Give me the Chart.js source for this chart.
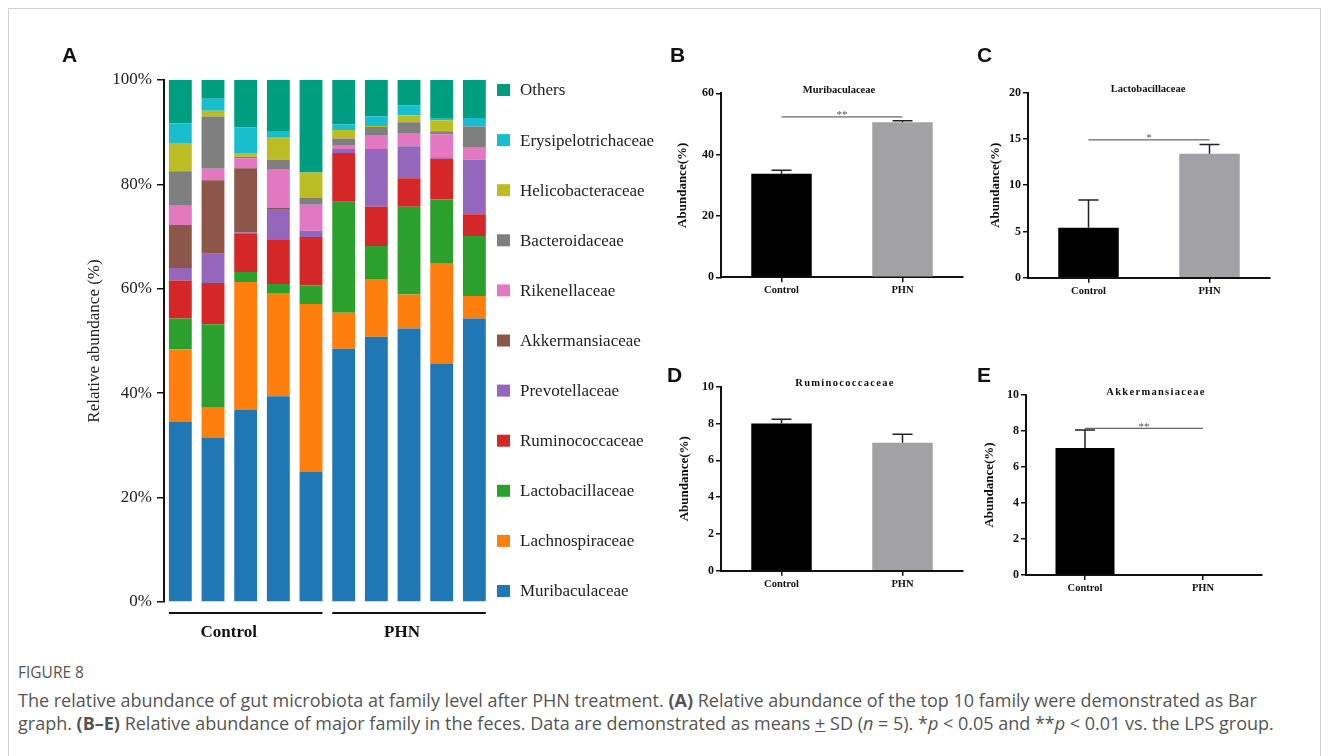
<!DOCTYPE html>
<html>
<head>
<meta charset="utf-8">
<script src="https://cdn.jsdelivr.net/npm/chart.js@4.4.1/dist/chart.umd.min.js"></script>
<style>
  body { margin: 0; background: #fff; width: 1328px; height: 756px; overflow: hidden; position: relative; font-family: 'Liberation Serif', serif; }
  .frame { position: absolute; left: 8px; top: 8px; width: 1311px; height: 800px; border: 1px solid #d2d2d2; }
  canvas { position: absolute; }
  .letter { position: absolute; font: bold 21px 'Liberation Sans', Arial, sans-serif; line-height: 21px; color: #111; }
  .ptitle { position: absolute; white-space: nowrap; line-height: 1; transform: translate(-50%, -50%); font-weight: bold; font-size: 10.5px; color: #111; }
  .caption { position: absolute; left: 18px; font-family: 'Open Sans', sans-serif; color: #555; white-space: nowrap; }
</style>
</head>
<body>
<div class="frame"></div>

<canvas id="chartA" width="660" height="650" style="left:0;top:0"></canvas>
<canvas id="chartB" width="330" height="250" style="left:640px;top:60px"></canvas>
<canvas id="chartC" width="330" height="250" style="left:950px;top:60px"></canvas>
<canvas id="chartD" width="330" height="250" style="left:640px;top:350px"></canvas>
<canvas id="chartE" width="330" height="250" style="left:950px;top:350px"></canvas>

<div class="letter" style="left:62px;top:44px">A</div>
<div class="letter" style="left:670px;top:44px">B</div>
<div class="letter" style="left:977px;top:44px">C</div>
<div class="letter" style="left:667px;top:364px">D</div>
<div class="letter" style="left:977px;top:364px">E</div>

<div class="ptitle" style="left:839px;top:90px">Muribaculaceae</div>
<div class="ptitle" style="left:1148px;top:89px">Lactobacillaceae</div>
<div class="ptitle" style="left:845px;top:383px;letter-spacing:1.3px">Ruminococcaceae</div>
<div class="ptitle" style="left:1156px;top:392px;letter-spacing:1.3px">Akkermansiaceae</div>

<div class="caption" style="top:663px;font-size:15.5px;line-height:18px">FIGURE 8</div>
<div class="caption" style="top:689px;font-size:18px;line-height:22px">The relative abundance of gut microbiota at family level after PHN treatment. <b>(A)</b> Relative abundance of the top 10 family were demonstrated as Bar</div>
<div class="caption" style="top:712px;font-size:18px;line-height:22px">graph. <b>(B–E)</b> Relative abundance of major family in the feces. Data are demonstrated as means <u>+</u> SD (<i>n</i> = 5). *<i>p</i> &lt; 0.05 and **<i>p</i> &lt; 0.01 vs. the LPS group.</div>

<script>
// Panel A: relative abundance per sample (%), bottom to top of each stack
const sampleLabels = ['C1', 'C2', 'C3', 'C4', 'C5', 'P1', 'P2', 'P3', 'P4', 'P5'];
const groupNames = ['Control', 'PHN'];
const groupSizes = [5, 5];

const muribaculaceae      = [34.5, 31.4, 36.8, 39.4, 24.9, 48.5, 50.8, 52.4, 45.7, 54.3];
const lachnospiraceae     = [13.9, 5.8, 24.5, 19.8, 32.2, 6.9, 11.1, 6.5, 19.1, 4.3];
const lactobacillaceae    = [5.9, 16.0, 1.9, 1.7, 3.6, 21.3, 6.3, 16.8, 12.3, 11.5];
const ruminococcaceae     = [7.3, 7.9, 7.3, 8.6, 9.2, 9.3, 7.5, 5.5, 7.8, 4.2];
const prevotellaceae      = [2.4, 5.6, 0.3, 5.8, 1.2, 0.8, 11.1, 6.1, 0.3, 10.4];
const akkermansiaceae     = [8.2, 14.1, 12.3, 0.2, 0, 0, 0, 0, 0, 0];
const rikenellaceae       = [3.7, 2.2, 1.9, 7.3, 5.0, 0.6, 2.5, 2.4, 4.4, 2.3];
const bacteroidaceae      = [6.6, 10.0, 0.3, 1.9, 1.3, 1.4, 1.7, 2.2, 0.6, 4.1];
const helicobacteraceae   = [5.3, 1.1, 0.7, 4.4, 4.9, 1.6, 0.2, 1.3, 2.1, 0];
const erysipelotrichaceae = [3.9, 2.3, 4.9, 1.0, 0, 1.1, 1.8, 1.9, 0.4, 1.6];
const others              = [8.3, 3.6, 9.1, 9.9, 17.7, 8.5, 7.0, 4.9, 7.3, 7.3];

const familyNames = ['Muribaculaceae', 'Lachnospiraceae', 'Lactobacillaceae', 'Ruminococcaceae', 'Prevotellaceae',
  'Akkermansiaceae', 'Rikenellaceae', 'Bacteroidaceae', 'Helicobacteraceae', 'Erysipelotrichaceae', 'Others'];
const familyValues = [muribaculaceae, lachnospiraceae, lactobacillaceae, ruminococcaceae, prevotellaceae,
  akkermansiaceae, rikenellaceae, bacteroidaceae, helicobacteraceae, erysipelotrichaceae, others];
const familyColors = ['#1f77b4', '#ff7f0e', '#2ca02c', '#d62728', '#9467bd',
  '#8c564b', '#e377c2', '#7f7f7f', '#bcbd22', '#17becf', '#009e80'];
const percentTicks = [0, 20, 40, 60, 80, 100];

// Panels B-E: means and SD (%), Control vs PHN
const muriMean = [33.8, 50.6];
const muriSd = [1.1, 0.45];
const lactoMean = [5.4, 13.4];
const lactoSd = [3.0, 1.0];
const ruminoMean = [8.0, 6.95];
const ruminoSd = [0.23, 0.47];
const akkMean = [7.05, 0];
const akkSd = [1.0, 0];

const SERIF = "'Liberation Serif', 'Times New Roman', serif";
Chart.defaults.font.family = SERIF;
Chart.defaults.color = '#111';

/**
 * Legend column drawn to the right of panel A (top entry = last dataset).
 */
const sideLegend = {
    id: 'sideLegend',
    afterDraw(chart, args, opts) {
        const { ctx, chartArea } = chart;
        const items = chart.data.datasets.slice().reverse();
        const step = (chartArea.bottom - chartArea.top - 21) / (items.length - 1);
        ctx.save();
        ctx.font = '17px ' + SERIF;
        ctx.textBaseline = 'middle';
        items.forEach((ds, i) => {
            const y = chartArea.top + 10 + i * step;
            ctx.fillStyle = ds.backgroundColor;
            ctx.fillRect(opts.x, y - 6, 13, 12);
            ctx.fillStyle = '#222';
            ctx.fillText(ds.label, opts.x + 23, y + 1);
        });
        ctx.restore();
    }
};

/**
 * Group brackets ("Control", "PHN") under panel A bars.
 */
const groupBrackets = {
    id: 'groupBrackets',
    afterDraw(chart, args, opts) {
        const { ctx, chartArea } = chart;
        const bars = chart.getDatasetMeta(0).data;
        let start = 0;
        ctx.save();
        groupNames.forEach((name, g) => {
            const first = bars[start];
            const last = bars[start + groupSizes[g] - 1];
            const x0 = first.x - first.width / 2;
            const x1 = last.x + last.width / 2;
            const y = chartArea.bottom + 11;
            ctx.strokeStyle = '#111';
            ctx.lineWidth = 2;
            ctx.beginPath();
            ctx.moveTo(x0, y);
            ctx.lineTo(x1, y);
            ctx.stroke();
            ctx.fillStyle = '#111';
            ctx.font = 'bold 17px ' + SERIF;
            ctx.textAlign = 'center';
            ctx.textBaseline = 'middle';
            ctx.fillText(name, (x0 + x1) / 2 + opts.shift[g], chartArea.bottom + 31);
            start += groupSizes[g];
        });
        ctx.restore();
    }
};

new Chart(document.getElementById('chartA'), {
    type: 'bar',
    data: {
        labels: sampleLabels,
        datasets: familyNames.map((name, i) => ({
            label: name,
            data: familyValues[i],
            backgroundColor: familyColors[i],
            borderWidth: 0,
            categoryPercentage: 1,
            barPercentage: 0.7
        }))
    },
    options: {
        responsive: false,
        animation: false,
        layout: { padding: { left: 80.8, right: 169.3, top: 80, bottom: 48 } },
        plugins: {
            legend: { display: false },
            tooltip: { enabled: false },
            sideLegend: { x: 497 },
            groupBrackets: { shift: [-17, -7] }
        },
        scales: {
            x: { stacked: true, display: false },
            y: {
                stacked: true,
                min: 0,
                max: 100,
                afterBuildTicks: s => { s.ticks = percentTicks.map(v => ({ value: v })); },
                ticks: { callback: v => v + '%', font: { size: 17 }, color: '#222', padding: 5 },
                grid: { drawOnChartArea: false, drawTicks: true, tickLength: 7, color: '#111', lineWidth: 1.5 },
                border: { display: true, color: '#111', width: 2 },
                title: { display: true, text: 'Relative abundance (%)', font: { size: 17 }, color: '#222', padding: { top: 4, bottom: 0 } },
                afterFit: s => { s.width = 83.2; }
            }
        }
    },
    plugins: [sideLegend, groupBrackets]
});

/**
 * Error bars (mean + SD) and significance bracket for panels B-E.
 */
const statMarks = {
    id: 'statMarks',
    afterDatasetsDraw(chart, args, opts) {
        const { ctx } = chart;
        const yScale = chart.scales.y;
        const bars = chart.getDatasetMeta(0).data;
        const means = chart.data.datasets[0].data;
        ctx.save();
        ctx.strokeStyle = '#222';
        ctx.lineWidth = 1.5;
        bars.forEach((bar, i) => {
            if (!opts.sd[i]) return;
            const top = yScale.getPixelForValue(means[i] + opts.sd[i]);
            ctx.beginPath();
            ctx.moveTo(bar.x, bar.y);
            ctx.lineTo(bar.x, top);
            ctx.moveTo(bar.x - 10, top);
            ctx.lineTo(bar.x + 10, top);
            ctx.stroke();
        });
        if (opts.sig) {
            const sy = yScale.getPixelForValue(opts.sig.at);
            ctx.strokeStyle = '#444';
            ctx.lineWidth = 1;
            ctx.beginPath();
            ctx.moveTo(bars[0].x, sy);
            ctx.lineTo(bars[1].x, sy);
            ctx.stroke();
            ctx.fillStyle = '#555';
            ctx.font = '11px ' + SERIF;
            ctx.textAlign = 'center';
            ctx.textBaseline = 'alphabetic';
            ctx.fillText(opts.sig.mark, (bars[0].x + bars[1].x) / 2, sy + 1.5);
        }
        ctx.restore();
    }
};

function statChart(id, geo, means, sd, yMax, step, sig) {
    return new Chart(document.getElementById(id), {
        type: 'bar',
        data: {
            labels: groupNames,
            datasets: [{
                data: means,
                backgroundColor: ['#000000', '#a2a2a6'],
                borderWidth: 0,
                categoryPercentage: 1,
                barPercentage: 0.5
            }]
        },
        options: {
            responsive: false,
            animation: false,
            layout: { padding: geo.pad },
            plugins: {
                legend: { display: false },
                tooltip: { enabled: false },
                statMarks: { sd, sig }
            },
            scales: {
                x: {
                    grid: { offset: false, drawOnChartArea: false, drawTicks: true, tickLength: 5, color: '#111', lineWidth: 1.5 },
                    border: { display: true, color: '#111', width: 2 },
                    ticks: { font: { size: 10.5, weight: 'bold' }, color: '#111', padding: 2 },
                    afterFit: s => { s.height = 20; }
                },
                y: {
                    min: 0,
                    max: yMax,
                    ticks: { stepSize: step, font: { size: 12, weight: 'bold' }, color: '#111', padding: 2 },
                    grid: { drawOnChartArea: false, drawTicks: true, tickLength: 5, color: '#111', lineWidth: 1.5 },
                    border: { display: true, color: '#111', width: 2 },
                    title: { display: true, text: 'Abundance(%)', font: { size: 13, weight: 'bold' }, color: '#111', padding: { top: 4, bottom: 0 } },
                    afterFit: s => { s.width = geo.yW; }
                }
            }
        },
        plugins: [statMarks]
    });
}

statChart('chartB', { pad: { left: 31.2, right: 7, top: 33.3, bottom: 12.7 }, yW: 49.8 },
    muriMean, muriSd, 60, 20, { at: 52.3, mark: '**' });
statChart('chartC', { pad: { left: 33.9, right: 10, top: 32.7, bottom: 12.3 }, yW: 44.1 },
    lactoMean, lactoSd, 20, 5, { at: 14.9, mark: '*' });
statChart('chartD', { pad: { left: 33.2, right: 7, top: 36.7, bottom: 9.3 }, yW: 47.8 },
    ruminoMean, ruminoSd, 10, 2, null);
statChart('chartE', { pad: { left: 27.5, right: 18, top: 45, bottom: 5 }, yW: 48.5 },
    akkMean, akkSd, 10, 2, { at: 8.15, mark: '**' });
</script>
</body>
</html>
